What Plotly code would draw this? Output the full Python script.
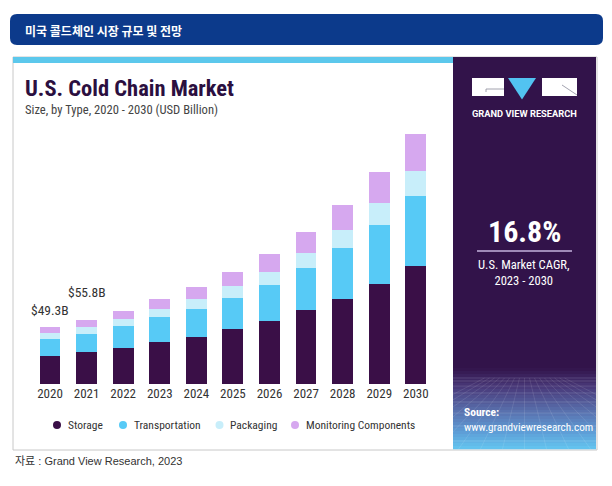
import plotly.graph_objects as go

# ---------------- data ----------------
years = ["2020", "2021", "2022", "2023", "2024", "2025", "2026", "2027", "2028", "2029", "2030"]
series_names = ["Storage", "Transportation", "Packaging", "Monitoring Components"]
storage = [24.5, 28.0, 31.7, 36.9, 41.2, 47.6, 54.6, 64.1, 74.1, 86.6, 102.2]
transportation = [14.4, 15.9, 18.5, 21.4, 24.0, 27.4, 31.2, 36.9, 43.9, 51.6, 61.1]
packaging = [5.2, 5.8, 6.1, 7.2, 8.4, 9.9, 11.3, 13.0, 15.3, 18.8, 21.7]
monitoring = [5.2, 6.1, 6.9, 8.1, 10.7, 12.4, 15.8, 17.7, 21.9, 26.6, 31.5]
value_labels = ["$49.3B", "$55.8B"]
cagr_text = "16.8%"
cagr_caption = "U.S. Market CAGR,<br>2023 - 2030"

# ---------------- style ----------------
OFF = 8                      # page body margin
W, H = 612 - OFF, 486 - OFF  # figure size
colors = ["#3a0f47", "#57caf6", "#c8eefa", "#d6a8ef"]
NARROW = "Liberation Sans Narrow, Roboto Condensed, Roboto, sans-serif"
PURPLE = "#32134a"


def px(x):
    return (x - OFF) / W


def py(y):
    return 1 - (y - OFF) / H


fig = go.Figure()
for name, vals, c in zip(series_names, [storage, transportation, packaging, monitoring], colors):
    fig.add_trace(go.Bar(x=years, y=vals, name=name, marker=dict(color=c, line=dict(width=0)),
                         width=0.57, showlegend=False, hoverinfo="x+y+name"))

totals = [s + t + p + m for s, t, p, m in zip(storage, transportation, packaging, monitoring)]

shapes = []
annotations = []

# header bar (rounded)
x0, x1, y0, y1, r = 10, 603, 14, 45, 7
path = (f"M {px(x0 + r)},{py(y0)} L {px(x1 - r)},{py(y0)} Q {px(x1)},{py(y0)} {px(x1)},{py(y0 + r)} "
        f"L {px(x1)},{py(y1 - r)} Q {px(x1)},{py(y1)} {px(x1 - r)},{py(y1)} "
        f"L {px(x0 + r)},{py(y1)} Q {px(x0)},{py(y1)} {px(x0)},{py(y1 - r)} "
        f"L {px(x0)},{py(y0 + r)} Q {px(x0)},{py(y0)} {px(x0 + r)},{py(y0)} Z")
shapes.append(dict(type="path", xref="paper", yref="paper", path=path, fillcolor="#0c3a8b",
                   line=dict(width=0), layer="below"))
annotations.append(dict(text="<b>미국 콜드체인 시장 규모 및 전망</b>", x=px(23), y=py(30.5), xref="paper", yref="paper",
                        xanchor="left", yanchor="middle", showarrow=False,
                        font=dict(family="Noto Sans CJK KR", size=12, color="white")))

# chart panel
shapes.append(dict(type="rect", xref="paper", yref="paper", x0=px(13), x1=px(597), y0=py(450), y1=py(57),
                   fillcolor="white", line=dict(color="#c8c8c8", width=1), layer="below"))
shapes.append(dict(type="rect", xref="paper", yref="paper", x0=px(13), x1=px(453), y0=py(63), y1=py(57),
                   fillcolor="#5cc8ec", line=dict(width=0), layer="below"))
shapes.append(dict(type="rect", xref="paper", yref="paper", x0=px(453), x1=px(596), y0=py(449), y1=py(57),
                   fillcolor=PURPLE, line=dict(width=0), layer="below"))


def lerp(c1, c2, t):
    a = [int(c1[i:i + 2], 16) for i in (1, 3, 5)]
    b = [int(c2[i:i + 2], 16) for i in (1, 3, 5)]
    return "#" + "".join(f"{int(round(a[k] + (b[k] - a[k]) * t)):02x}" for k in range(3))


# gradient at bottom of the purple panel
gy0, gy1, n = 368, 449, 27
stops = [(0.0, PURPLE), (0.25, "#4a3c7c"), (0.55, "#5a73b0"), (0.8, "#5e9fd8"), (1.0, "#63c6f0")]
for i in range(n):
    t = (i + 0.5) / n
    col = stops[-1][1]
    for j in range(len(stops) - 1):
        if stops[j][0] <= t <= stops[j + 1][0]:
            tt = (t - stops[j][0]) / (stops[j + 1][0] - stops[j][0])
            col = lerp(stops[j][1], stops[j + 1][1], tt)
            break
    ya = gy0 + (gy1 - gy0) * i / n
    yb = gy0 + (gy1 - gy0) * (i + 1) / n
    shapes.append(dict(type="rect", xref="paper", yref="paper", x0=px(453), x1=px(596), y0=py(yb + 0.3), y1=py(ya),
                       fillcolor=col, line=dict(width=0), layer="below"))
# faint perspective grid
for k in range(9):
    yy = 378 + k * k * 1.0 + k * 2
    if yy > 449:
        break
    shapes.append(dict(type="line", xref="paper", yref="paper", x0=px(453), x1=px(596), y0=py(yy), y1=py(yy),
                       line=dict(color="rgba(255,255,255,0.12)", width=1), layer="below"))
for k in range(-8, 9):
    shapes.append(dict(type="line", xref="paper", yref="paper", x0=px(524.5 + k * 5), x1=px(524.5 + k * 22),
                       y0=py(378), y1=py(449), line=dict(color="rgba(255,255,255,0.10)", width=1), layer="below"))

# logo
shapes.append(dict(type="rect", xref="paper", yref="paper", x0=px(472), x1=px(504), y0=py(96), y1=py(78),
                   fillcolor="white", line=dict(width=0)))
shapes.append(dict(type="rect", xref="paper", yref="paper", x0=px(542), x1=px(577), y0=py(96), y1=py(78),
                   fillcolor="white", line=dict(width=0)))
shapes.append(dict(type="path", xref="paper", yref="paper",
                   path=f"M {px(508)},{py(78)} L {px(536)},{py(78)} L {px(522)},{py(99.5)} Z",
                   fillcolor="#52c3f1", line=dict(width=0)))
shapes.append(dict(type="line", xref="paper", yref="paper", x0=px(486), x1=px(504), y0=py(89), y1=py(89),
                   line=dict(color="#8a8a9a", width=0.8)))
shapes.append(dict(type="line", xref="paper", yref="paper", x0=px(486), x1=px(486), y0=py(89), y1=py(92),
                   line=dict(color="#8a8a9a", width=0.8)))
shapes.append(dict(type="line", xref="paper", yref="paper", x0=px(562), x1=px(577), y0=py(85), y1=py(95),
                   line=dict(color="#8a8a9a", width=0.8)))
annotations.append(dict(text="<b>GRAND VIEW RESEARCH</b>", x=px(524), y=py(113), xref="paper", yref="paper",
                        xanchor="center", yanchor="middle", showarrow=False,
                        font=dict(family="Roboto", size=9.3, color="white")))

# CAGR block
annotations.append(dict(text=f"<b>{cagr_text}</b>", x=px(524), y=py(231), xref="paper", yref="paper",
                        xanchor="center", yanchor="middle", showarrow=False,
                        font=dict(family=NARROW, size=30, color="white")))
shapes.append(dict(type="line", xref="paper", yref="paper", x0=px(477), x1=px(572), y0=py(251), y1=py(251),
                   line=dict(color="#c4b3de", width=1.5)))
annotations.append(dict(text=cagr_caption, x=px(524), y=py(272), xref="paper", yref="paper",
                        xanchor="center", yanchor="middle", showarrow=False, align="center",
                        font=dict(family=NARROW, size=12.6, color="white")))

# source
annotations.append(dict(text="<b>Source:</b>", x=px(462), y=py(412), xref="paper", yref="paper",
                        xanchor="left", yanchor="middle", showarrow=False,
                        font=dict(family=NARROW, size=11.5, color="white")))
annotations.append(dict(text="www.grandviewresearch.com", x=px(462), y=py(427), xref="paper", yref="paper",
                        xanchor="left", yanchor="middle", showarrow=False,
                        font=dict(family=NARROW, size=11.2, color="white")))

# title
annotations.append(dict(text="<b>U.S. Cold Chain Market</b>", x=px(23), y=py(88), xref="paper", yref="paper",
                        xanchor="left", yanchor="middle", showarrow=False,
                        font=dict(family=NARROW, size=22.5, color="#2b0f3f")))
annotations.append(dict(text="Size, by Type, 2020 - 2030 (USD Billion)", x=px(23), y=py(110), xref="paper",
                        yref="paper", xanchor="left", yanchor="middle", showarrow=False,
                        font=dict(family=NARROW, size=12.6, color="#444444")))

# value labels (numeric category index to avoid numeric-string ambiguity)
shifts = [17, 28]
for i, lab in enumerate(value_labels):
    annotations.append(dict(text=lab, x=i, y=totals[i], xref="x", yref="y", yshift=shifts[i],
                            xanchor="center", yanchor="middle", showarrow=False,
                            font=dict(family=NARROW, size=13.5, color="#333333")))

# legend (manual)
leg_dots = [57, 123, 219.5, 295]
for xd, name, c in zip(leg_dots, series_names, colors):
    shapes.append(dict(type="circle", xref="paper", yref="paper", x0=px(xd - 4), x1=px(xd + 4),
                       y0=py(429), y1=py(421), fillcolor=c, line=dict(width=0)))
    annotations.append(dict(text=name, x=px(xd + 8.5), y=py(425), xref="paper", yref="paper",
                            xanchor="left", yanchor="middle", showarrow=False,
                            font=dict(family=NARROW, size=11.5, color="#333333")))

# footer
annotations.append(dict(text="자료 : Grand View Research, 2023", x=px(13), y=py(460.5), xref="paper", yref="paper",
                        xanchor="left", yanchor="middle", showarrow=False,
                        font=dict(family="Liberation Sans, Noto Sans CJK KR", size=11, color="#333333")))

fig.update_layout(
    width=W, height=H, margin=dict(l=0, r=0, t=0, b=0, autoexpand=False),
    paper_bgcolor="white", plot_bgcolor="rgba(0,0,0,0)",
    barmode="stack",
    shapes=shapes, annotations=annotations,
    xaxis=dict(domain=[px(31.7), px(434.1)], type="category", range=[-0.5, 10.5], autorange=False,
               showgrid=False, zeroline=False,
               showline=False, ticks="", tickfont=dict(family=NARROW, size=13, color="#333333"),
               fixedrange=True),
    yaxis=dict(domain=[py(384.3), py(130)], range=[0, 220.2], autorange=False, visible=False, fixedrange=True),
    showlegend=False,
)

fig.write_html("out.html", include_plotlyjs=True, full_html=True,
               config={"displayModeBar": False, "responsive": False})
